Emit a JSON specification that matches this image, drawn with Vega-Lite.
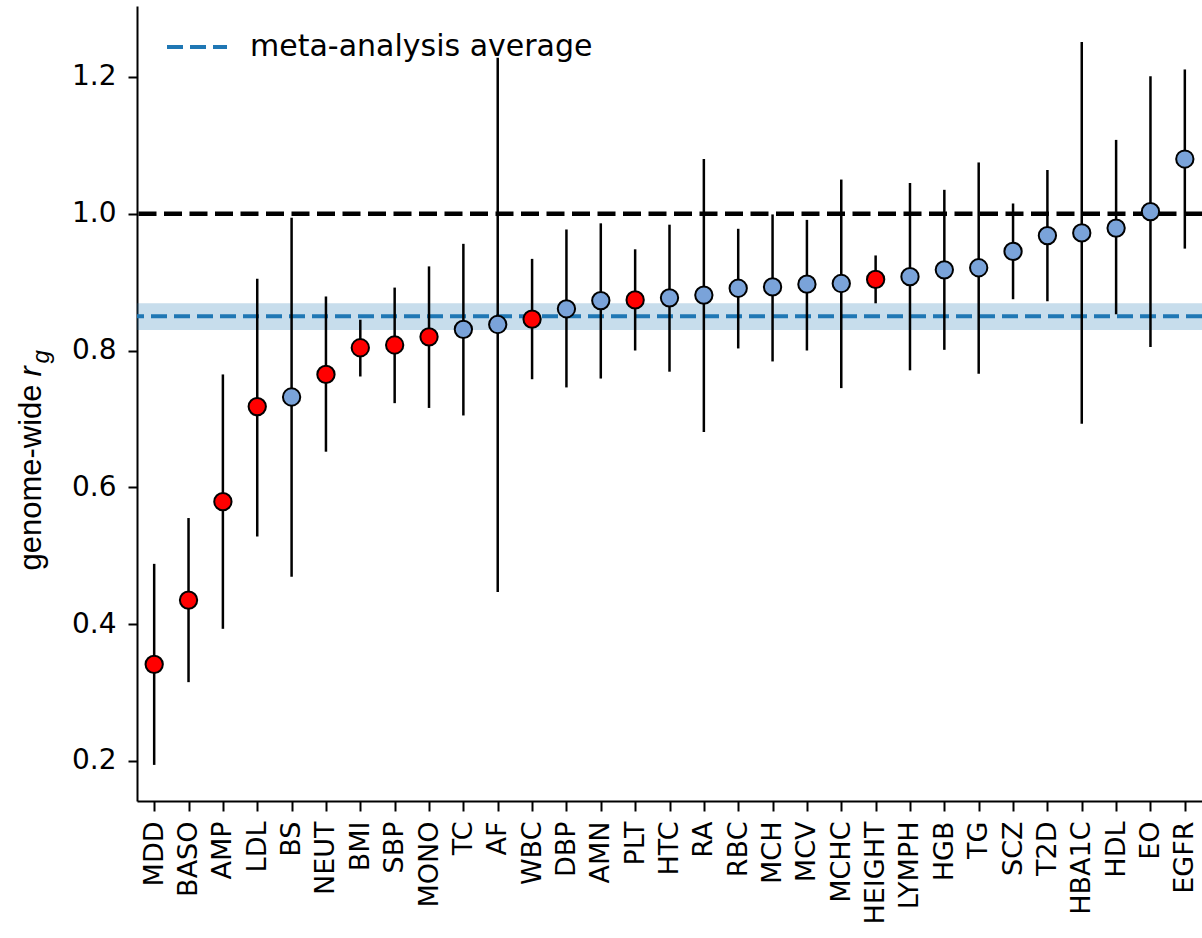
{
  "$schema": "https://vega.github.io/schema/vega-lite/v6.json",
  "width": 1065,
  "height": 795,
  "autosize": {"type": "none"},
  "padding": {"left": 137, "top": 6, "right": 0, "bottom": 137},
  "background": "white",
  "config": {
    "view": {"stroke": null},
    "axis": {
      "grid": false,
      "domainColor": "black",
      "tickColor": "black",
      "labelColor": "black",
      "titleColor": "black",
      "domainWidth": 2,
      "tickWidth": 2,
      "labelFont": "DejaVu Sans"
    }
  },
  "data": {
    "values": [
      {"trait": "MDD", "rg": 0.341, "lo": 0.194, "hi": 0.488, "group": "differs"},
      {"trait": "BASO", "rg": 0.435, "lo": 0.315, "hi": 0.555, "group": "differs"},
      {"trait": "AMP", "rg": 0.579, "lo": 0.393, "hi": 0.765, "group": "differs"},
      {"trait": "LDL", "rg": 0.718, "lo": 0.528, "hi": 0.905, "group": "differs"},
      {"trait": "BS", "rg": 0.732, "lo": 0.469, "hi": 0.994, "group": "consistent"},
      {"trait": "NEUT", "rg": 0.765, "lo": 0.652, "hi": 0.879, "group": "differs"},
      {"trait": "BMI", "rg": 0.804, "lo": 0.762, "hi": 0.845, "group": "differs"},
      {"trait": "SBP", "rg": 0.808, "lo": 0.723, "hi": 0.892, "group": "differs"},
      {"trait": "MONO", "rg": 0.820, "lo": 0.716, "hi": 0.923, "group": "differs"},
      {"trait": "TC", "rg": 0.831, "lo": 0.705, "hi": 0.956, "group": "consistent"},
      {"trait": "AF", "rg": 0.838, "lo": 0.447, "hi": 1.228, "group": "consistent"},
      {"trait": "WBC", "rg": 0.846, "lo": 0.758, "hi": 0.934, "group": "differs"},
      {"trait": "DBP", "rg": 0.861, "lo": 0.746, "hi": 0.977, "group": "consistent"},
      {"trait": "AMN", "rg": 0.873, "lo": 0.759, "hi": 0.986, "group": "consistent"},
      {"trait": "PLT", "rg": 0.874, "lo": 0.800, "hi": 0.948, "group": "differs"},
      {"trait": "HTC", "rg": 0.877, "lo": 0.769, "hi": 0.984, "group": "consistent"},
      {"trait": "RA", "rg": 0.881, "lo": 0.681, "hi": 1.080, "group": "consistent"},
      {"trait": "RBC", "rg": 0.891, "lo": 0.803, "hi": 0.978, "group": "consistent"},
      {"trait": "MCH", "rg": 0.893, "lo": 0.784, "hi": 0.999, "group": "consistent"},
      {"trait": "MCV", "rg": 0.897, "lo": 0.800, "hi": 0.991, "group": "consistent"},
      {"trait": "MCHC", "rg": 0.898, "lo": 0.745, "hi": 1.050, "group": "consistent"},
      {"trait": "HEIGHT", "rg": 0.904, "lo": 0.869, "hi": 0.939, "group": "differs"},
      {"trait": "LYMPH", "rg": 0.908, "lo": 0.771, "hi": 1.045, "group": "consistent"},
      {"trait": "HGB", "rg": 0.918, "lo": 0.801, "hi": 1.035, "group": "consistent"},
      {"trait": "TG", "rg": 0.921, "lo": 0.766, "hi": 1.075, "group": "consistent"},
      {"trait": "SCZ", "rg": 0.945, "lo": 0.875, "hi": 1.015, "group": "consistent"},
      {"trait": "T2D", "rg": 0.968, "lo": 0.872, "hi": 1.064, "group": "consistent"},
      {"trait": "HBA1C", "rg": 0.972, "lo": 0.693, "hi": 1.251, "group": "consistent"},
      {"trait": "HDL", "rg": 0.979, "lo": 0.853, "hi": 1.108, "group": "consistent"},
      {"trait": "EO", "rg": 1.003, "lo": 0.805, "hi": 1.201, "group": "consistent"},
      {"trait": "EGFR", "rg": 1.080, "lo": 0.949, "hi": 1.211, "group": "consistent"}
    ]
  },
  "layer": [
    {
      "data": {"values": [{"lower": 0.830, "upper": 0.869}]},
      "mark": {"type": "rect", "color": "#1f77b4", "opacity": 0.25},
      "encoding": {
        "y": {"field": "lower", "type": "quantitative", "scale": {"domain": [0.1412, 1.3038], "nice": false, "zero": false}, "axis": null},
        "y2": {"field": "upper"}
      }
    },
    {
      "data": {"values": [{"avg": 0.85, "label": "meta-analysis average"}]},
      "mark": {"type": "rule", "strokeWidth": 4, "strokeDash": [16, 7]},
      "encoding": {
        "y": {"field": "avg", "type": "quantitative", "axis": null},
        "color": {
          "field": "label",
          "type": "nominal",
          "scale": {"range": ["#1f77b4"]},
          "legend": {
            "title": null,
            "orient": "none",
            "legendX": 28,
            "legendY": 9,
            "padding": 0,
            "symbolType": "stroke",
            "symbolSize": 3600,
            "symbolStrokeWidth": 4,
            "symbolDash": [16, 7],
            "labelFont": "DejaVu Sans",
            "labelFontSize": 30,
            "labelColor": "black",
            "labelOffset": 21,
            "labelLimit": 0
          }
        }
      }
    },
    {
      "data": {"values": [{"ref": 1.0}]},
      "mark": {"type": "rule", "color": "black", "strokeWidth": 4.5, "strokeDash": [18, 7.5]},
      "encoding": {
        "y": {
          "field": "ref",
          "type": "quantitative",
          "axis": {
            "orient": "left",
            "labels": false,
            "ticks": false,
            "domain": false,
            "title": "g",
            "titleFont": "Liberation Sans",
            "titleFontStyle": "italic",
            "titleFontWeight": "normal",
            "titleFontSize": 24,
            "titleAngle": 270,
            "titleAlign": "left",
            "titleBaseline": "alphabetic",
            "titleX": -89,
            "titleY": 357
          }
        }
      }
    },
    {
      "mark": {"type": "rule", "color": "black", "strokeWidth": 2.5},
      "encoding": {
        "x": {
          "field": "trait",
          "type": "nominal",
          "sort": null,
          "scale": {"type": "point", "padding": 0.5},
          "axis": {
            "title": null,
            "labelAngle": -90,
            "labelFontSize": 27,
            "labelPadding": 10,
            "tickSize": 10,
            "domainWidth": 2
          }
        },
        "y": {
          "field": "lo",
          "type": "quantitative",
          "axis": {
            "orient": "left",
            "values": [0.2, 0.4, 0.6, 0.8, 1.0, 1.2],
            "format": ".1f",
            "labelFontSize": 28,
            "labelPadding": 12,
            "tickSize": 9,
            "title": "genome-wide",
            "titleFont": "Liberation Sans",
            "titleFontWeight": "normal",
            "titleFontSize": 31,
            "titleAngle": 270,
            "titleAlign": "left",
            "titleBaseline": "alphabetic",
            "titleX": -97,
            "titleY": 564
          }
        },
        "y2": {"field": "hi"}
      }
    },
    {
      "mark": {"type": "point", "shape": "circle", "filled": true, "size": 300, "stroke": "black", "strokeWidth": 2, "opacity": 1},
      "encoding": {
        "x": {"field": "trait", "type": "nominal", "sort": null},
        "y": {
          "field": "rg",
          "type": "quantitative",
          "axis": {
            "orient": "left",
            "labels": false,
            "ticks": false,
            "domain": false,
            "title": "r",
            "titleFont": "Liberation Sans",
            "titleFontStyle": "italic",
            "titleFontWeight": "normal",
            "titleFontSize": 31,
            "titleAngle": 270,
            "titleAlign": "left",
            "titleBaseline": "alphabetic",
            "titleX": -97,
            "titleY": 370
          }
        },
        "fill": {
          "field": "group",
          "type": "nominal",
          "scale": {"domain": ["differs", "consistent"], "range": ["#ff0000", "#7aa3d9"]},
          "legend": null
        }
      }
    }
  ],
  "resolve": {"axis": {"y": "independent"}}
}
